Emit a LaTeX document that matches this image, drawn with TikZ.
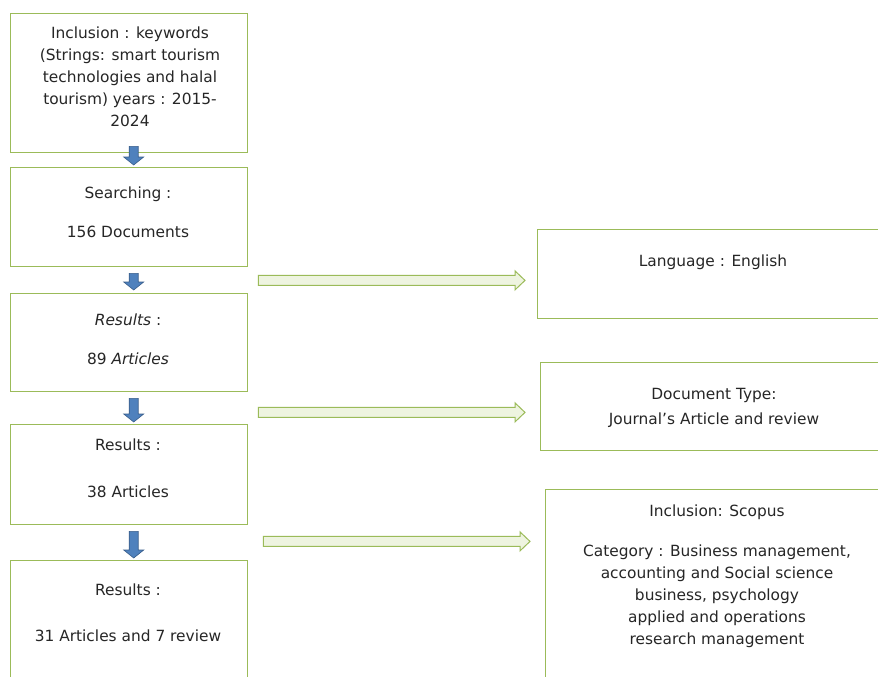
\documentclass[tikz,border=0pt]{standalone}
\usepackage{fontspec}
\setmainfont{DejaVu Sans}
\usetikzlibrary{calc}
\definecolor{boxgreen}{HTML}{9BBB59}
\definecolor{arrowfill}{HTML}{EEF4E0}
\definecolor{bluefill}{HTML}{4F81BD}
\definecolor{blueline}{HTML}{385D8A}
\definecolor{txt}{HTML}{262626}
\begin{document}
\begin{tikzpicture}[x=1pt,y=-1pt,
 box/.style={draw=boxgreen, line width=1.4pt, fill=white, anchor=north west, inner sep=0pt},
 txtnode/.style={text=txt, align=center, font=\fontsize{15.4}{22}\selectfont, inner sep=0pt},
 downarrow/.style={fill=bluefill, draw=blueline, line width=0.6pt, to path={let \p1=(\tikztostart), \p2=(\tikztotarget) in (\x1-4.5pt,\y1) -- (\x1-4.5pt,\y2+8pt) -- (\x1-10pt,\y2+8pt) -- (\x1,\y2) -- (\x1+10pt,\y2+8pt) -- (\x1+4.5pt,\y2+8pt) -- (\x1+4.5pt,\y1) -- cycle}},
 rightarrow/.style={fill=arrowfill, draw=boxgreen, line width=1pt, to path={let \p1=(\tikztostart), \p2=(\tikztotarget) in (\x1,\y1+5pt) -- (\x2-10pt,\y1+5pt) -- (\x2-10pt,\y1+9.5pt) -- (\x2,\y1) -- (\x2-10pt,\y1-9.5pt) -- (\x2-10pt,\y1-5pt) -- (\x1,\y1-5pt) -- cycle}}
]
\useasboundingbox (0,0) rectangle (878,677);
\clip (0,0) rectangle (878,677);
\fill[white] (0,0) rectangle (878,677);

% left column boxes
\node[box, minimum width=237pt, minimum height=139pt] (b1) at (10,13) {};
\node[box, minimum width=237pt, minimum height=99pt] (b2) at (10,167) {};
\node[box, minimum width=237pt, minimum height=98pt] (b3) at (10,293) {};
\node[box, minimum width=237pt, minimum height=100pt] (b4) at (10,424) {};
\node[box, minimum width=237pt, minimum height=130pt] (b5) at (10,560) {};

% right column boxes
\node[box, minimum width=350pt, minimum height=89pt] (r1) at (537,229) {};
\node[box, minimum width=350pt, minimum height=88pt] (r2) at (540,362) {};
\node[box, minimum width=350pt, minimum height=200pt] (r3) at (545,489) {};

% texts
\node[txtnode] (t1) at (130,77) {Inclusion : keywords\\(Strings: smart tourism\\technologies and halal\\tourism) years : 2015-\\2024};
\node[txtnode] (t2) at (128,212.5) {Searching :\\[17pt]156 Documents};
\node[txtnode] (t3) at (128,339.5) {\textit{Results} :\\[17pt]89 \textit{Articles}};
\node[txtnode] (t4) at (128,468.5) {Results :\\[25pt]38 Articles};
\node[txtnode] (t5) at (128,613) {Results :\\[24pt]31 Articles and 7 review};
\node[txtnode] (u1) at (713,262) {Language : English};
\node[txtnode] (u2) at (714,407.5) {Document Type:\\[3pt]Journal's Article and review};
\node[txtnode] (u3) at (717,576.5) {Inclusion: Scopus\\[18pt]Category : Business management,\\accounting and Social science\\business, psychology\\applied and operations\\research management};

% vertical arrow end points
\coordinate (v1s) at ($(b1.south)+(4.5,-7)$);
\coordinate (v1e) at ($(b2.north)+(4.5,-2)$);
\coordinate (v2s) at ($(b2.south)+(4.5,6)$);
\coordinate (v2e) at ($(b3.north)+(4.5,-3)$);
\coordinate (v3s) at ($(b3.south)+(4.5,6)$);
\coordinate (v3e) at ($(b4.north)+(4.5,-2)$);
\coordinate (v4s) at ($(b4.south)+(4.5,6)$);
\coordinate (v4e) at ($(b5.north)+(4.5,-2)$);
\draw[downarrow] (v1s) to (v1e);
\draw[downarrow] (v2s) to (v2e);
\draw[downarrow] (v3s) to (v3e);
\draw[downarrow] (v4s) to (v4e);

% horizontal arrows
\coordinate (h1s) at ($(b2.south east)+(10,13)$);
\coordinate (h1e) at ($(r1.west)+(-12,5.5)$);
\coordinate (h2s) at ($(b3.south east)+(10,20)$);
\coordinate (h2e) at ($(r2.west)+(-15,5)$);
\coordinate (h3s) at ($(b4.south east)+(15,16)$);
\coordinate (h3e) at ($(r3.north west)+(-15,51)$);
\draw[rightarrow] (h1s) to (h1e);
\draw[rightarrow] (h2s) to (h2e);
\draw[rightarrow] (h3s) to (h3e);
\end{tikzpicture}
\end{document}
